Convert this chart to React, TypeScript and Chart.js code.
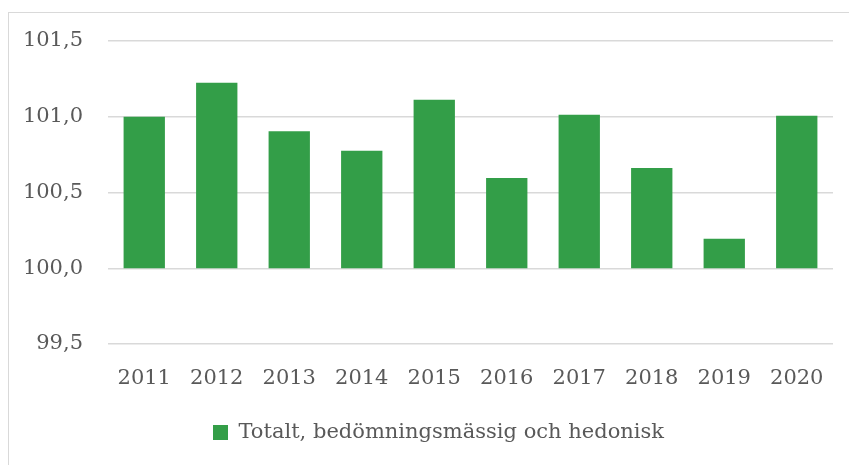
import React, { useEffect, useRef } from "react";
import { Chart, registerables } from "chart.js";

Chart.register(...registerables);

const years = ["2011", "2012", "2013", "2014", "2015", "2016", "2017", "2018", "2019", "2020"];
const values = [101.0, 101.225, 100.905, 100.775, 101.113, 100.596, 101.013, 100.662, 100.195, 101.007];
const baseline = 100.0;
const seriesLabel = "Totalt, bedömningsmässig och hedonisk";
const yMin = 99.5;
const yMax = 101.5;
const yStep = 0.5;

const FONT = "'DejaVu Serif', serif";
const TEXT = "#595959";
const GRID = "#d9d9d9";
const GREEN = "#339e48";

const shiftLegend = {
  id: "shiftLegend",
  afterLayout(chart: any) {
    if (chart.legend) {
      chart.legend.left += 22;
      chart.legend.right += 22;
    }
  },
};

export default function App() {
  const ref = useRef<HTMLCanvasElement | null>(null);
  useEffect(() => {
    if (!ref.current) return;
    const chart = new Chart(ref.current, {
      type: "bar",
      data: {
        labels: years,
        datasets: [
          {
            label: seriesLabel,
            data: values.map((v) => [baseline, v]) as any,
            backgroundColor: GREEN,
            borderWidth: 0,
            barPercentage: 0.57,
            categoryPercentage: 1,
          },
        ],
      },
      plugins: [shiftLegend],
      options: {
        animation: false,
        responsive: false,
        layout: { padding: { top: 41, right: 16, bottom: 12, left: 0 } },
        plugins: {
          tooltip: { enabled: false },
          legend: {
            position: "bottom",
            labels: {
              boxWidth: 15,
              boxHeight: 15,
              color: TEXT,
              font: { family: FONT, size: 21 },
              padding: 10,
            },
          },
        },
        scales: {
          x: {
            afterFit: (s: any) => {
              s.height = 68;
            },
            grid: { display: false, drawTicks: false },
            border: { display: false },
            ticks: { color: TEXT, font: { family: FONT, size: 21 }, padding: 22 },
          },
          y: {
            min: yMin,
            max: yMax,
            afterFit: (s: any) => {
              s.width = 108;
            },
            grid: { color: GRID, lineWidth: 1.5, drawTicks: false },
            border: { display: false },
            ticks: {
              stepSize: yStep,
              color: TEXT,
              font: { family: FONT, size: 21 },
              padding: 25,
              callback: (v: any) => Number(v).toFixed(1).replace(".", ","),
            },
          },
        },
      },
    });
    return () => chart.destroy();
  }, []);
  return (
    <div style={{ position: "fixed", left: 0, top: 0, width: 849, height: 465, background: "#fff", overflow: "hidden" }}>
      <div
        style={{
          position: "absolute",
          left: 8,
          top: 12,
          width: 900,
          height: 500,
          border: "1px solid #d9d9d9",
          boxSizing: "border-box",
        }}
      />
      <canvas ref={ref} width={849} height={465} style={{ position: "absolute", left: 0, top: 0 }} />
    </div>
  );
}
